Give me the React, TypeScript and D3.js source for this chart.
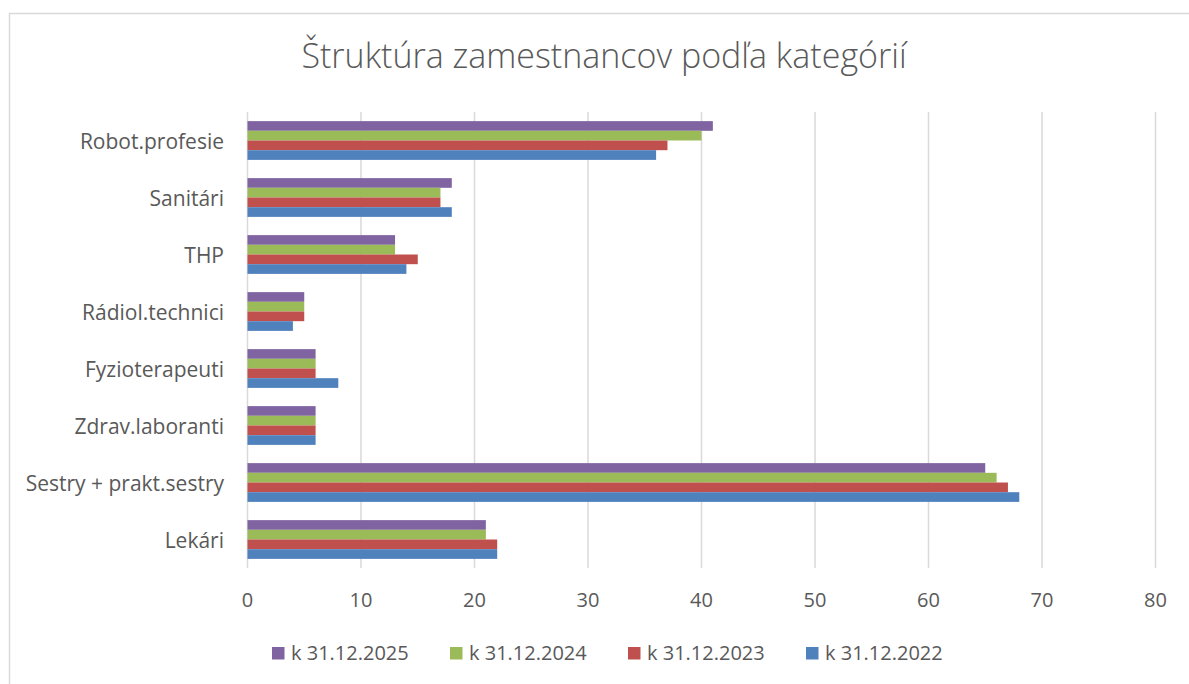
import React, { useRef, useEffect } from "react";
import * as d3 from "d3";

// categories, listed top to bottom as shown
const categories = [
  "Robot.profesie",
  "Sanitári",
  "THP",
  "Rádiol.technici",
  "Fyzioterapeuti",
  "Zdrav.laboranti",
  "Sestry + prakt.sestry",
  "Lekári",
];

const seriesNames = ["k 31.12.2025", "k 31.12.2024", "k 31.12.2023", "k 31.12.2022"];
const seriesColors = ["#8064A2", "#9BBB59", "#C0504D", "#4F81BD"];

const values2025 = [41, 18, 13, 5, 6, 6, 65, 21];
const values2024 = [40, 17, 13, 5, 6, 6, 66, 21];
const values2023 = [37, 17, 15, 5, 6, 6, 67, 22];
const values2022 = [36, 18, 14, 4, 8, 6, 68, 22];

const xTicks = [0, 10, 20, 30, 40, 50, 60, 70, 80];

const title = "Štruktúra zamestnancov podľa kategórií";

function App() {
  const svgRef = useRef<SVGSVGElement>(null);

  useEffect(() => {
    const svg = d3.select(svgRef.current);
    svg.selectAll("*").remove();

    const width = 1189;
    const height = 684;
    const font = "'Open Sans', 'Liberation Sans', sans-serif";
    const textColor = "#595959";

    const left = 247.5;
    const right = 1155.5;
    const top = 112;
    const bottom = 568;

    // chart frame
    svg
      .append("rect")
      .attr("x", 9.5)
      .attr("y", 13.5)
      .attr("width", width + 20)
      .attr("height", height + 20)
      .attr("fill", "#fff")
      .attr("stroke", "#d9d9d9")
      .attr("stroke-width", 1.5);

    const x = d3.scaleLinear().domain([0, 80]).range([left, right]);
    const y = d3.scaleBand().domain(categories).range([top, bottom]).paddingInner(0.32).paddingOuter(0.16);
    const inner = d3.scaleBand().domain(seriesNames).range([0, y.bandwidth()]);

    // gridlines
    svg
      .selectAll(".grid")
      .data(xTicks)
      .join("line")
      .attr("class", "grid")
      .attr("x1", (d) => x(d))
      .attr("x2", (d) => x(d))
      .attr("y1", top)
      .attr("y2", bottom)
      .attr("stroke", "#d9d9d9")
      .attr("stroke-width", 1.5);

    // x tick labels
    svg
      .selectAll(".xlabel")
      .data(xTicks)
      .join("text")
      .attr("class", "xlabel")
      .attr("x", (d) => x(d))
      .attr("y", 607)
      .attr("text-anchor", "middle")
      .attr("font-family", font)
      .attr("font-size", 20)
      .attr("fill", textColor)
      .text((d) => d);

    // category labels
    svg
      .selectAll(".ylabel")
      .data(categories)
      .join("text")
      .attr("class", "ylabel")
      .attr("x", 224)
      .attr("y", (d) => y(d)! + y.bandwidth() / 2 + 8.5)
      .attr("text-anchor", "end")
      .attr("font-family", font)
      .attr("font-size", 21)
      .attr("fill", textColor)
      .text((d) => d);

    // bars
    const allValues = [values2025, values2024, values2023, values2022];
    seriesNames.forEach((name, si) => {
      svg
        .append("g")
        .selectAll("rect")
        .data(categories.map((c, i) => ({ c, v: allValues[si][i] })))
        .join("rect")
        .attr("x", x(0))
        .attr("y", (d) => y(d.c)! + inner(name)!)
        .attr("width", (d) => x(d.v) - x(0))
        .attr("height", inner.bandwidth())
        .attr("fill", seriesColors[si]);
    });

    // title
    svg
      .append("text")
      .attr("x", 604)
      .attr("y", 68)
      .attr("text-anchor", "middle")
      .attr("font-family", font)
      .attr("font-weight", 300)
      .attr("font-size", 34)
      .attr("fill", textColor)
      .text(title);

    // legend
    const legendX = d3.scaleBand().domain(seriesNames).range([272, 984]);
    const legend = svg
      .selectAll(".legend")
      .data(seriesNames)
      .join("g")
      .attr("class", "legend")
      .attr("transform", (d) => `translate(${legendX(d)},647)`);
    legend
      .append("rect")
      .attr("width", 12.5)
      .attr("height", 12.5)
      .attr("fill", (d, i) => seriesColors[i]);
    legend
      .append("text")
      .attr("x", 19)
      .attr("y", 12.5)
      .attr("font-family", font)
      .attr("font-size", 20)
      .attr("fill", textColor)
      .text((d) => d);
  }, []);

  return (
    <svg
      ref={svgRef}
      width={1189}
      height={684}
      style={{ position: "absolute", left: 0, top: 0, background: "#fff" }}
    />
  );
}

export default App;
